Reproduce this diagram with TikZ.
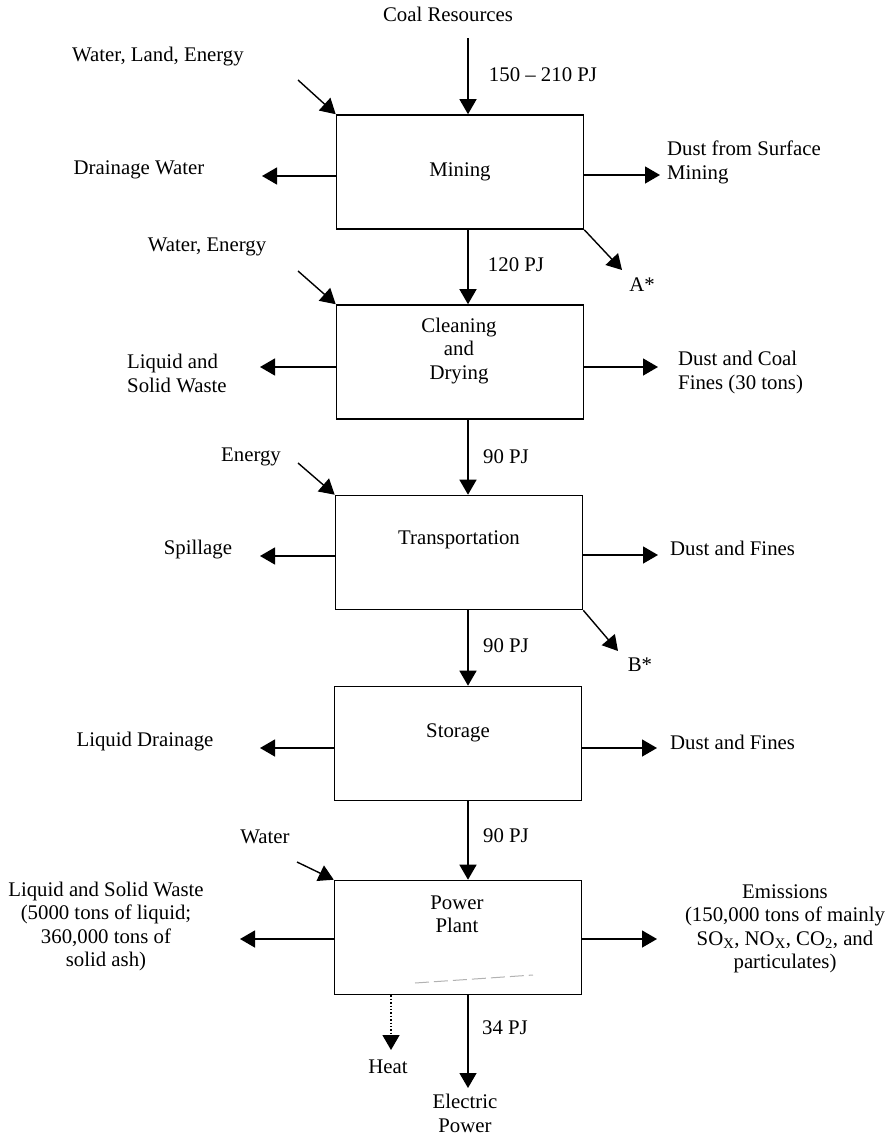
\documentclass[tikz,border=0pt]{standalone}
\usepackage{fontspec}
\setmainfont{Liberation Serif}
\usetikzlibrary{arrows.meta}
\tikzset{
  procbox/.style={draw, line width=1.6pt, minimum width=247pt, minimum height=114pt, inner sep=0pt},
  flow/.style={line width=1.4pt, -{Triangle[length=15pt,width=17pt]}},
  txt/.style={inner sep=0pt, align=center},
}
\begin{document}
\begin{tikzpicture}[x=1pt,y=-1pt,font=\fontsize{20.8}{23.5}\selectfont]
\useasboundingbox (0,0) rectangle (894,1138);
% process chain
\node[procbox] (mining) at (460,172) {};
\node[procbox] (cleaning) at (460,362) {};
\node[procbox] (transport) at (459,552.5) {};
\node[procbox] (storage) at (458,743.5) {};
\node[procbox] (power) at (458,937.5) {};
\node[txt] at (460,172) {Mining};
\node[txt] at (459,351) {Cleaning\\and\\Drying};
\node[txt] at (459,540) {Transportation};
\node[txt] at (458,733) {Storage};
\node[txt] at (457,914.5) {Power\\Plant};
\draw[gray!60, dash pattern=on 14pt off 5pt, line width=1pt] (415,983) -- (533,975);
% main coal flow
\coordinate (flowx) at (468,0);
\node[txt] (coal) at (448,14) {Coal Resources};
\coordinate (coal tail) at (468,38);
\draw[flow] (coal tail) -- (mining.north -| flowx);
\draw[flow] (mining.south -| flowx) -- (cleaning.north -| flowx);
\draw[flow] (cleaning.south -| flowx) -- (transport.north -| flowx);
\draw[flow] (transport.south -| flowx) -- (storage.north -| flowx);
\draw[flow] (storage.south -| flowx) -- (power.north -| flowx);
\node[txt] at (543,75) {150 \textendash\ 210 PJ};
\node[txt] at (516,265) {120 PJ};
\node[txt] at (506,457) {90 PJ};
\node[txt] at (506,646) {90 PJ};
\node[txt] at (506,836) {90 PJ};
\node[txt] at (505,1028) {34 PJ};
% inputs
\node[txt] (wle) at (158,57) {Water, Land, Energy};
\coordinate (wle tail) at (298,80);
\draw[flow] (wle tail) -- (mining.north west);
\node[txt] (we) at (207,247) {Water, Energy};
\coordinate (we tail) at (298,271);
\draw[flow] (we tail) -- (cleaning.north west);
\node[txt] (en) at (251,457) {Energy};
\coordinate (en tail) at (298,463);
\draw[flow] (en tail) -- (transport.north west);
\node[txt] (wa) at (265,837) {Water};
\coordinate (wa tail) at (297,862);
\draw[flow] (wa tail) -- (power.north west);
% outputs, left
\node[txt] (drain) at (139,170) {Drainage Water};
\coordinate (drain tip) at (262,176);
\draw[flow] (mining.west |- drain tip) -- (drain tip);
\node[txt, align=left, anchor=west] (lsw) at (127,373.5) {Liquid and\\Solid Waste};
\coordinate (lsw tip) at (260,367);
\draw[flow] (cleaning.west |- lsw tip) -- (lsw tip);
\node[txt] (spill) at (198,550) {Spillage};
\coordinate (spill tip) at (260,556);
\draw[flow] (transport.west |- spill tip) -- (spill tip);
\node[txt] (ldrain) at (145,742) {Liquid Drainage};
\coordinate (ldrain tip) at (260,748);
\draw[flow] (storage.west |- ldrain tip) -- (ldrain tip);
\node[txt] (waste) at (106,926.5) {Liquid and Solid Waste\\(5000 tons of liquid;\\360,000 tons of\\solid ash)};
\coordinate (waste tip) at (240,939);
\draw[flow] (power.west |- waste tip) -- (waste tip);
% outputs, right
\node[txt, align=left, anchor=west] (dsm) at (667,162.5) {Dust from Surface\\Mining};
\coordinate (dsm tip) at (660,175);
\draw[flow] (mining.east |- dsm tip) -- (dsm tip);
\node[txt, align=left, anchor=west] (dcf) at (678,372.5) {Dust and Coal\\Fines (30 tons)};
\coordinate (dcf tip) at (658,367);
\draw[flow] (cleaning.east |- dcf tip) -- (dcf tip);
\node[txt, anchor=west] (dft) at (670,548) {Dust and Fines};
\coordinate (dft tip) at (658,555);
\draw[flow] (transport.east |- dft tip) -- (dft tip);
\node[txt, anchor=west] (dfs) at (670,742) {Dust and Fines};
\coordinate (dfs tip) at (657,748);
\draw[flow] (storage.east |- dfs tip) -- (dfs tip);
\node[txt] (emis) at (785,929) {Emissions\\(150,000 tons of mainly\\SO\textsubscript{X}, NO\textsubscript{X}, CO\textsubscript{2}, and\\particulates)};
\coordinate (emis tip) at (657,939);
\draw[flow] (power.east |- emis tip) -- (emis tip);
% side streams
\coordinate (a tip) at (622,270);
\draw[flow] (mining.south east) -- (a tip);
\node[txt] (a) at (642,285) {A*};
\coordinate (b tip) at (618,651);
\draw[flow] (transport.south east) -- (b tip);
\node[txt] (b) at (640,665) {B*};
% power plant products
\coordinate (heat tip) at (391,1050);
\draw[flow, dotted] (power.south -| heat tip) -- (heat tip);
\node[txt] (heat) at (388,1067) {Heat};
\coordinate (elec tip) at (468,1088);
\draw[flow] (power.south -| flowx) -- (elec tip);
\node[txt] (elec) at (465,1113.5) {Electric\\Power};
\end{tikzpicture}
\end{document}
